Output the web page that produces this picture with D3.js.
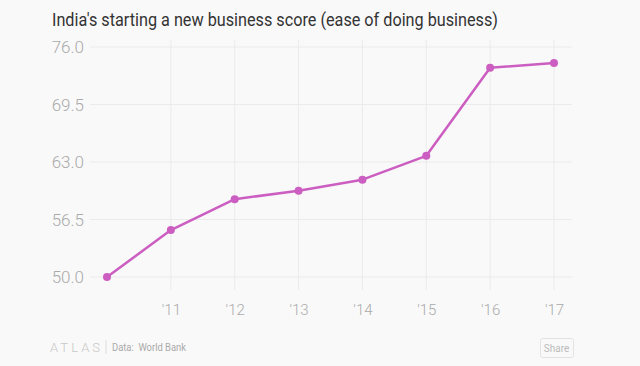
<!DOCTYPE html>
<html>
<head>
<meta charset="utf-8">
<script src="https://cdn.jsdelivr.net/npm/d3@7"></script>
<style>
  body { margin: 0; background: #f9f9f9; }
  svg { display: block; }
</style>
</head>
<body>
<script>
// chart data
const years = [2010, 2011, 2012, 2013, 2014, 2015, 2016, 2017];
const scores = [50.0, 55.3, 58.8, 59.75, 61.0, 63.7, 73.65, 74.2];
const yTicks = [50.0, 56.5, 63.0, 69.5, 76.0];
const xTicks = [2011, 2012, 2013, 2014, 2015, 2016, 2017];

const W = 640, H = 366;
const svg = d3.select("body").append("svg")
    .attr("width", W)
    .attr("height", H)
    .style("background", "#f9f9f9");

const x = d3.scaleLinear().domain([2010, 2017]).range([107, 554]);
const y = d3.scaleLinear().domain([50, 76]).range([277, 47]);

// title
svg.append("text")
    .attr("x", 52).attr("y", 26)
    .attr("fill", "#333")
    .attr("textLength", 446).attr("lengthAdjust", "spacingAndGlyphs")
    .style("font-family", "Roboto, sans-serif")
    .style("font-size", "18px")
    .text("India's starting a new business score (ease of doing business)");

// gridlines
svg.append("g").selectAll("line")
    .data(yTicks).join("line")
    .attr("x1", 90).attr("x2", 572)
    .attr("y1", d => y(d)).attr("y2", d => y(d))
    .attr("stroke", "#ebebeb").attr("stroke-width", 1);

svg.append("g").selectAll("line")
    .data(xTicks).join("line")
    .attr("x1", d => x(d)).attr("x2", d => x(d))
    .attr("y1", 40).attr("y2", 290)
    .attr("stroke", "#ebebeb").attr("stroke-width", 1);

// y axis
const yAxis = svg.append("g")
    .attr("transform", "translate(84,0)")
    .call(d3.axisLeft(y).tickValues(yTicks).tickFormat(d3.format(".1f")).tickSize(0).tickPadding(0));
yAxis.select(".domain").remove();
yAxis.selectAll("text")
    .attr("fill", "#aaa")
    .style("font-family", "Roboto, sans-serif")
    .style("font-weight", 300)
    .style("font-size", "17px")
    .attr("dy", "0.35em");

// x axis
const xAxis = svg.append("g")
    .attr("transform", "translate(0,300)")
    .call(d3.axisBottom(x).tickValues(xTicks).tickFormat(d => "'" + String(d).slice(2)).tickSize(0).tickPadding(4));
xAxis.select(".domain").remove();
xAxis.selectAll("text")
    .attr("fill", "#aaa")
    .style("font-family", "Roboto, sans-serif")
    .style("font-weight", 300)
    .style("font-size", "15px");

// line + dots
const pts = years.map((yr, i) => [yr, scores[i]]);
svg.append("path")
    .datum(pts)
    .attr("fill", "none")
    .attr("stroke", "#cc5ec2")
    .attr("stroke-width", 2.5)
    .attr("stroke-linejoin", "round")
    .attr("d", d3.line().x(d => x(d[0])).y(d => y(d[1])));

svg.append("g").selectAll("circle")
    .data(pts).join("circle")
    .attr("cx", d => x(d[0])).attr("cy", d => y(d[1]))
    .attr("r", 4)
    .attr("fill", "#cc5ec2");

// footer
svg.append("text")
    .attr("x", 50).attr("y", 352)
    .attr("fill", "#c8c8c8")
    .attr("textLength", 50).attr("lengthAdjust", "spacing")
    .style("font-family", "Roboto, sans-serif")
    .style("font-size", "13px")
    .style("font-weight", 300)
    .text("ATLAS");
svg.append("line")
    .attr("x1", 106).attr("x2", 106).attr("y1", 340).attr("y2", 354)
    .attr("stroke", "#ddd");
svg.append("text")
    .attr("x", 112).attr("y", 351)
    .attr("fill", "#aaa")
    .attr("textLength", 74).attr("lengthAdjust", "spacingAndGlyphs")
    .attr("xml:space", "preserve")
    .style("font-family", "Roboto, sans-serif")
    .style("font-size", "11px")
    .text("Data:  World Bank");

svg.append("rect")
    .attr("x", 540.5).attr("y", 338.5).attr("width", 33).attr("height", 19)
    .attr("rx", 2)
    .attr("fill", "none").attr("stroke", "#e3e3e3");
svg.append("text")
    .attr("x", 556.5).attr("y", 352)
    .attr("text-anchor", "middle")
    .attr("fill", "#bbb")
    .style("font-family", "Roboto, sans-serif")
    .style("font-size", "10px")
    .text("Share");
</script>
</body>
</html>
